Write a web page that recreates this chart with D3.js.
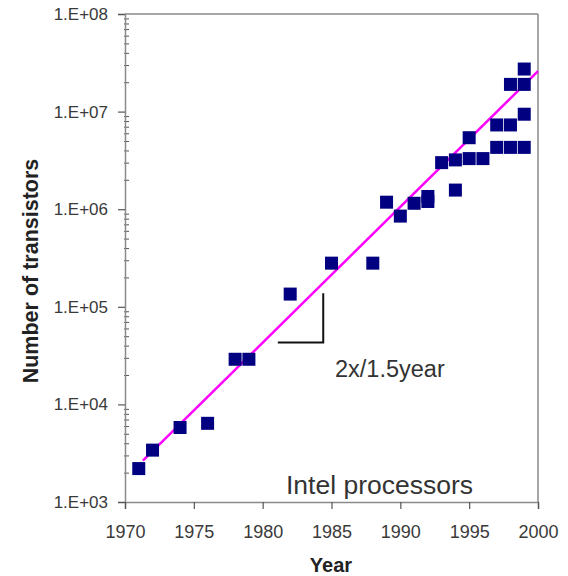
<!DOCTYPE html>
<html>
<head>
<meta charset="utf-8">
<script src="https://cdn.jsdelivr.net/npm/d3@7"></script>
<style>
  html, body { margin: 0; padding: 0; background: #fff; }
  svg { display: block; font-family: "Liberation Sans", Arial, sans-serif; }
</style>
</head>
<body>
<svg id="chart" width="568" height="576"></svg>
<script>
// ---- data ----
const years = [1971, 1972, 1974, 1976, 1978, 1979, 1982, 1985, 1988, 1989, 1990, 1991, 1992, 1992,
  1993, 1994, 1994, 1995, 1995, 1996, 1997, 1997, 1998, 1998, 1998, 1999, 1999, 1999, 1999];
const transistors = [2.2e3, 3.4e3, 5.8e3, 6.4e3, 2.9e4, 2.9e4, 1.35e5, 2.8e5, 2.8e5, 1.18e6, 8.5e5, 1.15e6, 1.2e6, 1.35e6,
  3.0e6, 3.2e6, 1.57e6, 5.4e6, 3.3e6, 3.3e6, 7.3e6, 4.3e6, 7.3e6, 4.3e6, 1.9e7, 1.9e7, 2.73e7, 9.4e6, 4.3e6];
const trendYears = [1971.3, 2000];
const trendValues = [2.65e3, 2.6e7];
const slopeYears = [1981.1, 1984.4];
const slopeValues = [4.3e4, 1.38e5];
const xTicks = [1970, 1975, 1980, 1985, 1990, 1995, 2000];
const yTicks = [1e3, 1e4, 1e5, 1e6, 1e7, 1e8];
const yTickLabels = ["1.E+03", "1.E+04", "1.E+05", "1.E+06", "1.E+07", "1.E+08"];

// ---- layout ----
const svg = d3.select("#chart");
const mLeft = 125, mRight = 538, mTop = 14, mBottom = 502;
const x = d3.scaleLinear().domain([1970, 2000]).range([mLeft, mRight]);
const y = d3.scaleLog().domain([1e3, 1e8]).range([mBottom, mTop]);
const axisColor = "#8a8a8a";

// frame (top and right)
svg.append("line").attr("x1", mLeft).attr("x2", mRight).attr("y1", mTop).attr("y2", mTop)
  .attr("stroke", axisColor).attr("stroke-width", 1.5);
svg.append("line").attr("x1", mRight).attr("x2", mRight).attr("y1", mTop).attr("y2", mBottom)
  .attr("stroke", axisColor).attr("stroke-width", 1.5);

// minor y ticks
const minor = [];
for (let e = 3; e < 8; e++) for (let m = 2; m <= 9; m++) minor.push(m * Math.pow(10, e));
const gMinor = svg.append("g").attr("transform", `translate(${mLeft - 1},0)`)
  .call(d3.axisRight(y).tickValues(minor).tickSize(5).tickFormat(""));
gMinor.select(".domain").remove();
gMinor.selectAll(".tick line").attr("stroke", "#555").attr("stroke-width", 1);

// y axis
const gy = svg.append("g").attr("transform", `translate(${mLeft},0)`)
  .call(d3.axisLeft(y).tickValues(yTicks).tickSize(7).tickPadding(10)
    .tickFormat((d, i) => yTickLabels[i]));
gy.select(".domain").attr("stroke", axisColor).attr("stroke-width", 1.5);
gy.selectAll(".tick line").attr("stroke", "#555").attr("stroke-width", 1.2);
gy.selectAll(".tick text").attr("font-size", 17).attr("fill", "#3a3a3a")
  .attr("font-family", "Liberation Sans, Arial, sans-serif");

// x axis
const gx = svg.append("g").attr("transform", `translate(0,${mBottom})`)
  .call(d3.axisBottom(x).tickValues(xTicks).tickSize(7).tickPadding(16).tickFormat(d3.format("d")));
gx.select(".domain").attr("stroke", axisColor).attr("stroke-width", 1.5);
gx.selectAll(".tick line").attr("stroke", "#555").attr("stroke-width", 1.2);
gx.selectAll(".tick text").attr("font-size", 18).attr("fill", "#3a3a3a")
  .attr("font-family", "Liberation Sans, Arial, sans-serif");

// trend line
svg.append("line")
  .attr("x1", x(trendYears[0])).attr("y1", y(trendValues[0]))
  .attr("x2", x(trendYears[1])).attr("y2", y(trendValues[1]))
  .attr("stroke", "#ff00ff").attr("stroke-width", 2.5);

// data squares
const sz = 13;
svg.append("g").selectAll("rect").data(years.map((yr, i) => [yr, transistors[i]])).join("rect")
  .attr("x", d => x(d[0]) - sz / 2).attr("y", d => y(d[1]) - sz / 2)
  .attr("width", sz).attr("height", sz).attr("fill", "#000080");

// slope triangle
svg.append("path")
  .attr("d", `M${x(slopeYears[0])},${y(slopeValues[0])}H${x(slopeYears[1])}V${y(slopeValues[1])}`)
  .attr("fill", "none").attr("stroke", "#111").attr("stroke-width", 2);

svg.append("text").attr("x", 335).attr("y", 377).attr("font-size", 23.5).attr("fill", "#333")
  .text("2x/1.5year");
svg.append("text").attr("x", 286).attr("y", 494).attr("font-size", 26.5).attr("fill", "#333")
  .text("Intel processors");

// axis titles
svg.append("text").attr("x", 331).attr("y", 572).attr("text-anchor", "middle")
  .attr("font-size", 20).attr("font-weight", "bold").attr("fill", "#222").text("Year");
svg.append("text").attr("transform", "translate(38,271) rotate(-90)").attr("text-anchor", "middle")
  .attr("font-size", 21.5).attr("font-weight", "bold").attr("fill", "#222").text("Number of transistors");
</script>
</body>
</html>
